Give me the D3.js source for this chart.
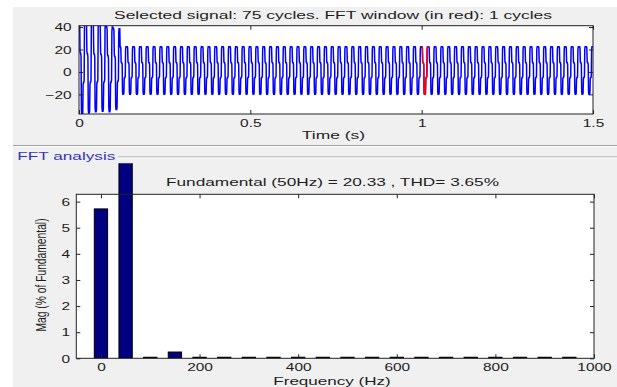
<!DOCTYPE html>
<html>
<head>
<meta charset="utf-8">
<script src="https://cdn.jsdelivr.net/npm/d3@7"></script>
<style>
  html, body { margin: 0; padding: 0; background: #ffffff; }
  svg { display: block; }
  text { font-family: "Liberation Sans", Arial, sans-serif; fill: #1e1e1e; }
</style>
</head>
<body>
<svg id="chart" width="617" height="387"></svg>
<script>
// ---- Signal data (volts) ----
const fundamentalHz = 50;
const cycleCount = 75;
const samplesPerCycle = 20;           // 1 ms sample step
// Normalised shape of one cycle (positive part scales with the cycle high, negative with the cycle low)
const cycleShape = [1, 1, 0.95, 0.4, 0.36, 0.36, 0.3, -0.9, -1, -1, -1, -0.95, -0.3, -0.25, -0.25, -0.2, 0.9, 1, 1, 1];
// Start-up transient: per-cycle peaks of the first six cycles
const transientHigh = [46, 45, 44, 43, 40, 38.5];
const transientLow = [-38, -36.5, -35.5, -35, -35.5, -33.5];
// Steady-state peaks
const steadyHigh = 22.5;
const steadyLow = -20;
// FFT window
const windowStart = 1.0;
const windowCycles = 1;

const timeTicks = [0, 0.5, 1, 1.5];
const timeTickLabels = ["0", "0.5", "1", "1.5"];
const ampTicks = [-20, 0, 20, 40];

// ---- FFT data (% of fundamental) ----
const harmonicFreqs = [0, 50, 100, 150, 200, 250, 300, 350, 400, 450, 500, 550, 600, 650, 700, 750, 800, 850, 900, 950];
const harmonicMags  = [5.72, 100, 0.04, 0.24, 0.04, 0.04, 0.04, 0.04, 0.04, 0.04, 0.04, 0.04, 0.04, 0.04, 0.04, 0.04, 0.04, 0.04, 0.04, 0.04];
const freqTicks = [0, 200, 400, 600, 800, 1000];
const magTicks = [0, 1, 2, 3, 4, 5, 6];

const fundamentalMag = 20.33;
const thdPercent = 3.65;

// ---- Build the time series ----
const signal = [];
for (let c = 0; c < cycleCount; c++) {
  const hi = c < transientHigh.length ? transientHigh[c] : steadyHigh;
  const lo = c < transientLow.length ? transientLow[c] : steadyLow;
  cycleShape.forEach((s, k) => {
    signal.push({ t: (c * samplesPerCycle + k) / (fundamentalHz * samplesPerCycle), v: s >= 0 ? s * hi : s * -lo });
  });
}
signal.push({ t: cycleCount / fundamentalHz, v: cycleShape[0] * steadyHigh });
const windowEnd = windowStart + windowCycles / fundamentalHz;
const windowPts = signal.filter(d => d.t >= windowStart - 1e-9 && d.t <= windowEnd + 1e-9);

// ---- Drawing ----
const svg = d3.select("#chart");
const STRETCH = 1.5;   // horizontal glyph stretch used by the text
const FS = 10.3;

// figure background
svg.append("rect").attr("x", 13).attr("y", 7).attr("width", 604).attr("height", 380).attr("fill", "#f0f0f0");

// etched separator and the panel frame
svg.append("line").attr("x1", 13).attr("x2", 617).attr("y1", 145.5).attr("y2", 145.5).attr("stroke", "#a0a0a0");
svg.append("line").attr("x1", 13).attr("x2", 617).attr("y1", 146.5).attr("y2", 146.5).attr("stroke", "#ffffff");
svg.append("line").attr("x1", 118).attr("x2", 617).attr("y1", 157).attr("y2", 157).attr("stroke", "#a0a0a0");
svg.append("line").attr("x1", 118).attr("x2", 617).attr("y1", 158).attr("y2", 158).attr("stroke", "#ffffff");

function stretchedText(g, txt, x, y, len, opts = {}) {
  return g.append("text")
    .attr("x", x).attr("y", y)
    .attr("text-anchor", opts.anchor || "middle")
    .attr("font-size", opts.size || FS)
    .attr("textLength", len)
    .attr("lengthAdjust", "spacingAndGlyphs")
    .style("fill", opts.fill || "#1e1e1e")
    .text(txt);
}

stretchedText(svg, "FFT analysis", 17.3, 159.5, 98, { anchor: "start", fill: "#3535b8" });

// ---------- Top axes: time signal ----------
const boxT = { l: 79, r: 593, t: 25.7, b: 114 };
const xT = d3.scaleLinear().domain([0, 1.5]).range([boxT.l, boxT.r]);
const yT = d3.scaleLinear().domain([-37.5, 41.2]).range([boxT.b, boxT.t]);

svg.append("rect").attr("x", boxT.l).attr("y", boxT.t).attr("width", boxT.r - boxT.l).attr("height", boxT.b - boxT.t).attr("fill", "#ffffff");

svg.append("clipPath").attr("id", "clipTop").append("rect")
  .attr("x", boxT.l).attr("y", boxT.t).attr("width", boxT.r - boxT.l).attr("height", boxT.b - boxT.t);

const line = d3.line().x(d => xT(d.t)).y(d => yT(d.v));
const plotT = svg.append("g").attr("clip-path", "url(#clipTop)");
plotT.append("path").datum(signal).attr("d", line).attr("fill", "none").attr("stroke", "#0000ff").attr("stroke-width", 1.5);
plotT.append("path").datum(windowPts).attr("d", line).attr("fill", "none").attr("stroke", "#ff0000").attr("stroke-width", 1.5);

function styleAxis(g) {
  g.select(".domain").remove();
  g.selectAll(".tick line").attr("stroke", "#222").attr("stroke-width", 1);
}

// bottom / left with labels, top / right ticks only (inward ticks)
const axBT = svg.append("g").attr("transform", `translate(0,${boxT.b})`)
  .call(d3.axisBottom(xT).tickValues(timeTicks).tickSize(-4).tickFormat((d, i) => timeTickLabels[i]));
styleAxis(axBT);
axBT.selectAll(".tick text").attr("y", 13.5).attr("dy", 0).attr("font-size", FS).attr("font-family", null)
  .attr("transform", `scale(${STRETCH},1)`).attr("x", 0);

const axLT = svg.append("g").attr("transform", `translate(${boxT.l},0)`)
  .call(d3.axisLeft(yT).tickValues(ampTicks).tickSize(-4));
styleAxis(axLT);
axLT.selectAll(".tick text").attr("x", -4.9).attr("dy", "0.36em").attr("font-size", FS).attr("font-family", null)
  .attr("transform", `scale(${STRETCH},1)`);

const axTT = svg.append("g").attr("transform", `translate(0,${boxT.t})`)
  .call(d3.axisTop(xT).tickValues(timeTicks).tickSize(-4).tickFormat(""));
styleAxis(axTT);
const axRT = svg.append("g").attr("transform", `translate(${boxT.r},0)`)
  .call(d3.axisRight(yT).tickValues(ampTicks).tickSize(-4).tickFormat(""));
styleAxis(axRT);

svg.append("rect").attr("x", boxT.l).attr("y", boxT.t).attr("width", boxT.r - boxT.l).attr("height", boxT.b - boxT.t)
  .attr("fill", "none").attr("stroke", "#222").attr("stroke-width", 1);

stretchedText(svg, `Selected signal: ${cycleCount} cycles. FFT window (in red): ${windowCycles} cycles`, 333, 18.5, 438);
stretchedText(svg, "Time (s)", 333.5, 139, 63.3);

// ---------- Bottom axes: FFT bars ----------
const boxF = { l: 76.3, r: 594, t: 194.3, b: 358.3 };
const xF = d3.scaleLinear().domain([-50, 1000]).range([boxF.l, boxF.r]);
const yF = d3.scaleLinear().domain([0, 6.28]).range([boxF.b, boxF.t]);

svg.append("rect").attr("x", boxF.l).attr("y", boxF.t).attr("width", boxF.r - boxF.l).attr("height", boxF.b - boxF.t).attr("fill", "#ffffff");

// bars may rise above the axes up to the panel's inner edge
svg.append("clipPath").attr("id", "clipBars").append("rect")
  .attr("x", boxF.l).attr("y", 163.3).attr("width", boxF.r - boxF.l).attr("height", boxF.b - 163.3);

const barHalf = 13.5; // Hz
const bars = harmonicFreqs.map((f, i) => ({ f, m: harmonicMags[i] }));
svg.append("g").attr("clip-path", "url(#clipBars)")
  .selectAll("rect").data(bars).join("rect")
  .attr("x", d => xF(d.f - barHalf))
  .attr("width", d => xF(d.f + barHalf) - xF(d.f - barHalf))
  .attr("y", d => yF(d.m))
  .attr("height", d => yF(0) - yF(d.m))
  .attr("fill", "#000080").attr("stroke", "#000000").attr("stroke-width", 1);

const axBF = svg.append("g").attr("transform", `translate(0,${boxF.b})`)
  .call(d3.axisBottom(xF).tickValues(freqTicks).tickSize(-4).tickFormat(d3.format("d")));
styleAxis(axBF);
axBF.selectAll(".tick text").attr("y", 12.7).attr("dy", 0).attr("font-size", FS).attr("font-family", null)
  .attr("transform", `scale(${STRETCH},1)`).attr("x", 0);

const axLF = svg.append("g").attr("transform", `translate(${boxF.l},0)`)
  .call(d3.axisLeft(yF).tickValues(magTicks).tickSize(-4).tickFormat(d3.format("d")));
styleAxis(axLF);
axLF.selectAll(".tick text").attr("x", -4.2).attr("dy", "0.36em").attr("font-size", FS).attr("font-family", null)
  .attr("transform", `scale(${STRETCH},1)`);

const axTF = svg.append("g").attr("transform", `translate(0,${boxF.t})`)
  .call(d3.axisTop(xF).tickValues(freqTicks).tickSize(-4).tickFormat(""));
styleAxis(axTF);
const axRF = svg.append("g").attr("transform", `translate(${boxF.r},0)`)
  .call(d3.axisRight(yF).tickValues(magTicks).tickSize(-4).tickFormat(""));
styleAxis(axRF);

svg.append("rect").attr("x", boxF.l).attr("y", boxF.t).attr("width", boxF.r - boxF.l).attr("height", boxF.b - boxF.t)
  .attr("fill", "none").attr("stroke", "#222").attr("stroke-width", 1);

stretchedText(svg, `Fundamental (${fundamentalHz}Hz) = ${fundamentalMag.toFixed(2)} , THD= ${thdPercent.toFixed(2)}%`, 332.5, 186, 333);
stretchedText(svg, "Frequency (Hz)", 332, 385, 117.4);

svg.append("text")
  .attr("transform", `translate(45.5,275) scale(${STRETCH},1) rotate(-90)`)
  .attr("text-anchor", "middle").attr("font-size", FS)
  .text("Mag (% of Fundamental)");
</script>
</body>
</html>
